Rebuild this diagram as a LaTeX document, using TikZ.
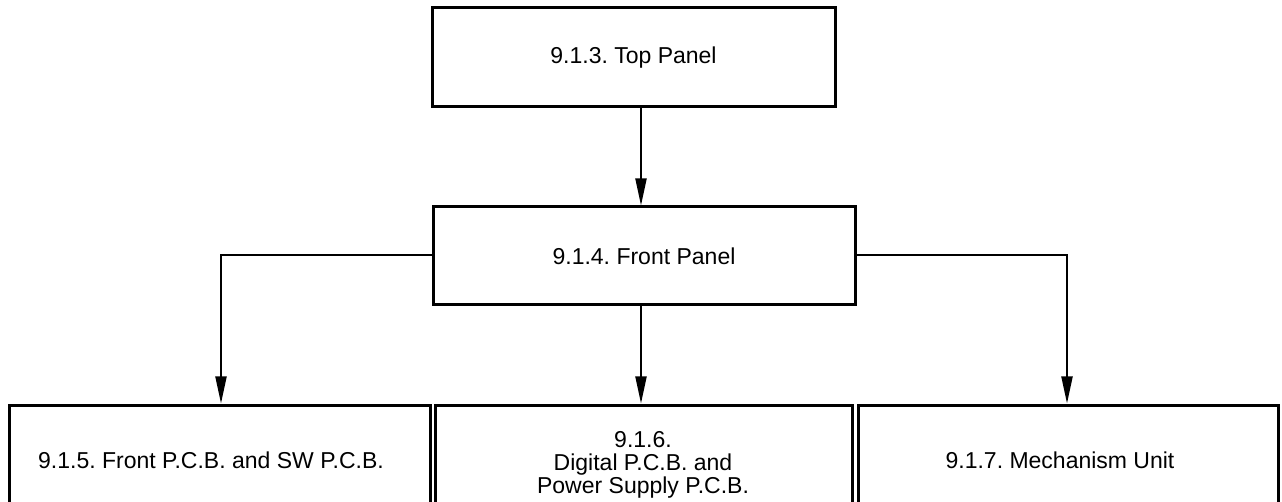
\documentclass[tikz,border=0pt]{standalone}
\usepackage{fontspec}
\setmainfont{Liberation Sans}
\usetikzlibrary{arrows.meta}
\begin{document}
\frenchspacing
\begin{tikzpicture}[x=1pt,y=-1pt,
  box/.style={draw=black,line width=3pt,rectangle,inner sep=0pt,font=\fontsize{23}{23}\selectfont},
  conn/.style={draw=black,line width=2pt,-{Triangle[length=27pt,width=11pt]}},
  lbl/.style={font=\fontsize{23}{23}\selectfont,align=center,inner sep=0pt}]
\useasboundingbox (0,0) rectangle (1282,502);
\clip (0,0) rectangle (1282,502);
\node[box,minimum width=403pt,minimum height=99pt] (top) at (633.5,57.5) {9.1.3. Top Panel};
\node[box,minimum width=422pt,minimum height=98pt] (front) at (644,256) {9.1.4. Front Panel};
\node[box,minimum width=421pt,minimum height=110pt] (b1) at (219.5,460) {};
\node[box,minimum width=417pt,minimum height=110pt] (b2) at (643.5,460) {};
\node[box,minimum width=420pt,minimum height=110pt] (b3) at (1068,460) {};
\node[lbl] (b1t) at (211,460) {9.1.5. Front P.C.B. and SW P.C.B.};
\node[lbl] (b2t) at (643,465) {9.1.6.\\Digital P.C.B. and\\Power Supply P.C.B.};
\node[lbl] (b3t) at (1060,460) {9.1.7. Mechanism Unit};
\coordinate (ta) at (641,0);
\coordinate (la) at (221,0);
\coordinate (ra) at (1067,0);
\draw[conn] (top.south -| ta) -- (front.north -| ta);
\draw[conn] (front.south -| ta) -- (b2.north -| ta);
\draw[conn] (front.west |- 0,255) -| (b1.north -| la);
\draw[conn] (front.east |- 0,255) -| (b3.north -| ra);
\end{tikzpicture}
\end{document}
